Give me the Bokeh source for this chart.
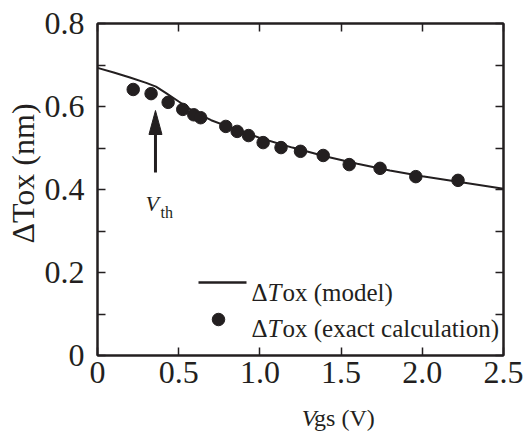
from bokeh.plotting import figure
from bokeh.layouts import column
from bokeh.models import (LinearAxis, FixedTicker, CustomJSTickFormatter, Label, Range1d)
from bokeh.embed import file_html
from bokeh.resources import INLINE

# ---- data ----
exact_vgs = [0.22, 0.33, 0.435, 0.525, 0.593, 0.635, 0.79, 0.86, 0.93,
             1.02, 1.13, 1.25, 1.39, 1.55, 1.74, 1.96, 2.22]
exact_dtox = [0.641, 0.631, 0.610, 0.593, 0.580, 0.573, 0.552, 0.540, 0.530,
              0.513, 0.501, 0.492, 0.482, 0.460, 0.451, 0.431, 0.422]
model_vgs = [0.0, 0.1, 0.2, 0.3, 0.36, 0.42, 0.5, 0.6, 0.7, 0.8, 0.9, 1.0,
             1.2, 1.4, 1.6, 1.8, 2.0, 2.2, 2.5]
model_dtox = [0.693, 0.682, 0.670, 0.657, 0.648, 0.633, 0.612, 0.586, 0.567,
              0.552, 0.539, 0.524, 0.501, 0.480, 0.462, 0.446, 0.432, 0.420, 0.402]
vth = 0.357
x_ticks = [0, 0.5, 1.0, 1.5, 2.0, 2.5]
y_ticks = [0, 0.2, 0.4, 0.6, 0.8]
y_minor = [0.1, 0.3, 0.5, 0.7]
y_title = "\u2002\u2002\u0394Tox (nm)"

INK = "#231f20"
FONT = "Liberation Serif"

W, H = 523, 435
XLAB_H = 35          # height of the x-label strip
PW, PH = W, H - XLAB_H
L, R, T, B = 97, 20, 23, PH - 355
FW, FH = PW - L - R, PH - T - B
X0, X1, Y0, Y1 = 0.0, 2.5, 0.0, 0.8

def dx(px):  # page px -> data x
    return X0 + (px - L) / FW * (X1 - X0)

def dy(py):  # page px -> data y
    return Y0 + (PH - B - py) / FH * (Y1 - Y0)

p = figure(width=PW, height=PH, x_range=Range1d(X0, X1), y_range=Range1d(Y0, Y1),
           output_backend="svg", toolbar_location=None,
           min_border_left=L, min_border_right=R, min_border_top=T, min_border_bottom=B,
           x_axis_location=None, y_axis_location=None, margin=0)
p.grid.visible = False
p.outline_line_color = INK
p.outline_line_width = 2
p.background_fill_color = "white"
p.border_fill_color = "white"

fmt = CustomJSTickFormatter(code="return tick == 0 ? '0' : tick.toFixed(1);")

def make_axis(kind, labels):
    ax = LinearAxis()
    if kind == "x":
        ax.ticker = FixedTicker(ticks=x_ticks)
    else:
        ax.ticker = FixedTicker(ticks=y_ticks, minor_ticks=y_minor)
    ax.formatter = fmt
    ax.axis_line_color = INK
    ax.axis_line_width = 2
    ax.major_tick_line_color = INK
    ax.major_tick_line_width = 1.5
    ax.minor_tick_line_color = INK
    ax.minor_tick_line_width = 1.5
    ax.major_tick_in = 8
    ax.major_tick_out = 0
    ax.minor_tick_in = 8 if kind == "y" else 0
    ax.minor_tick_out = 0
    if labels:
        ax.major_label_text_font = FONT
        ax.major_label_text_font_size = "32px"
        ax.major_label_text_color = INK
        ax.major_label_standoff = 6 if kind == "x" else 13
    else:
        ax.major_label_text_font_size = "0px"
        ax.major_label_text_color = None
        ax.major_label_standoff = 0
    return ax

p.add_layout(make_axis("x", True), "below")
yax = make_axis("y", True)
yax.axis_label = y_title
yax.axis_label_text_font = FONT
yax.axis_label_text_font_size = "32px"
yax.axis_label_text_font_style = "normal"
yax.axis_label_text_color = INK
yax.axis_label_standoff = 1
p.add_layout(yax, "left")
p.add_layout(make_axis("x", False), "above")
p.add_layout(make_axis("y", False), "right")

# model line and exact points
p.line(model_vgs, model_dtox, line_color=INK, line_width=2)
p.scatter(exact_vgs, exact_dtox, size=12.5, fill_color=INK, line_color=INK)

# Vth arrow
p.segment(x0=[vth], y0=[dy(172)], x1=[vth], y1=[dy(130)], line_color=INK, line_width=3)
hw = (X1 - X0) * 6.5 / FW
p.patch([vth, vth - hw, vth + hw], [dy(110), dy(134), dy(134)],
        fill_color=INK, line_color=INK)

def lab(fig, x, y, text, size, style="normal"):
    fig.add_layout(Label(x=x, y=y, text=text, text_font=FONT,
                         text_font_size=f"{size}px", text_font_style=style,
                         text_color=INK, text_align="left",
                         text_baseline="alphabetic"))

def plab(text, px, py, size, style="normal"):
    lab(p, dx(px), dy(py), text, size, style)

# Vth label
plab("V", 145, 203, 22, "italic")
plab("th", 160, 212, 16)

# legend
p.line([dx(198), dx(246)], [dy(282), dy(282)], line_color=INK, line_width=2.5)
p.scatter([dx(218)], [dy(319)], size=12.5, fill_color=INK, line_color=INK)
plab("\u0394", 251, 292, 25)
plab("T", 267, 292, 25, "italic")
plab("ox (model)", 282, 292, 25)
plab("\u0394", 251, 328, 25)
plab("T", 267, 328, 25, "italic")
plab("ox (exact calculation)", 282, 328, 25)

# x axis label strip (page baseline y=417)
xs = figure(width=W, height=XLAB_H, x_range=Range1d(0, W), y_range=Range1d(0, XLAB_H),
            output_backend="svg", toolbar_location=None, min_border=0,
            x_axis_location=None, y_axis_location=None, margin=0)
xs.grid.visible = False
xs.outline_line_color = None
xs.background_fill_color = "white"
xs.border_fill_color = "white"
lab(xs, 263, H - 417, "V", 24, "italic")
lab(xs, 279, H - 417, "gs (V)", 24)

layout = column(p, xs, spacing=0)

open("out.html", "w").write(file_html(layout, INLINE))
